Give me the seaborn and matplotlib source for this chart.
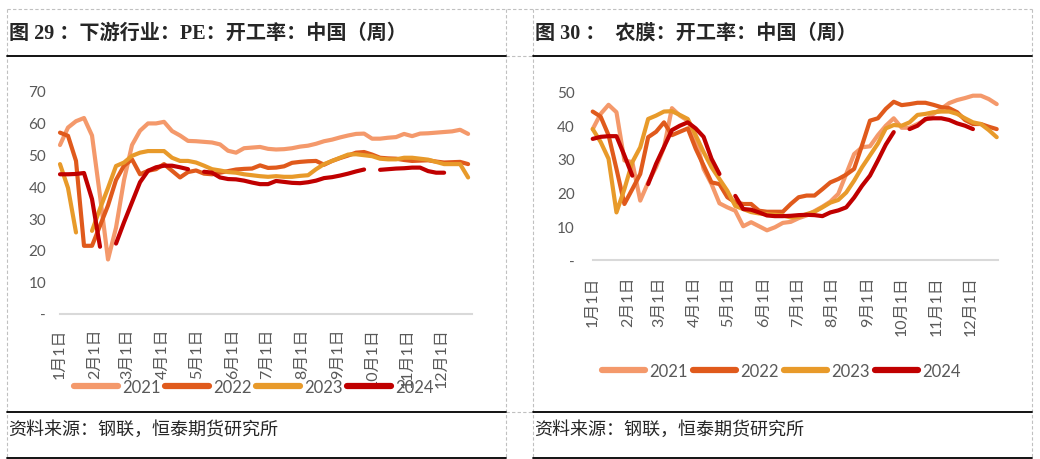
import numpy as np
import pandas as pd
import seaborn as sns
from matplotlib import pyplot as plt
from matplotlib.lines import Line2D

nan = np.nan

# weekly values, week 0 = first week of January
years = ["2021", "2022", "2023", "2024"]
colors = ["#F4996B", "#E05A1C", "#E89A2A", "#C00000"]
month_days = [0, 31, 59, 90, 120, 151, 181, 212, 243, 273, 304, 334]
month_labels = [f"{m}月1日" for m in range(1, 13)]

# 下游行业：PE：开工率
pe_2021 = [53, 58.5, 60.5, 61.5, 56, 37, 17, 27, 42, 53, 57.5, 59.8, 59.8, 60.3, 57.4, 56, 54.3, 54.2,
           54, 53.8, 53.2, 51.2, 50.6, 52, 52.2, 52.4, 51.8, 51.6, 51.7, 52, 52.5, 52.8, 53.4, 54.2, 54.7,
           55.4, 56, 56.5, 56.6, 55, 55, 55.3, 55.5, 56.5, 55.8, 56.6, 56.7, 56.9, 57.1, 57.3, 57.8, 56.5]
pe_2022 = [56.9, 55.9, 48, 21.3, 21.3, 27.6, 34, 42, 46.5, 48.5, 43.8, 44.9, 45.4, 47, 44.9, 42.8, 44.5,
           45, 44, 43.8, 44.3, 44.8, 45.3, 45.5, 45.6, 46.6, 45.8, 45.9, 46.3, 47.4, 47.7, 47.9, 48, 46.8,
           48, 48.9, 49.7, 50.6, 50.8, 50, 49, 48.8, 48.7, 48.3, 48, 48.1, 48.2, 47.8, 47.5, 47.6, 47.7, 47]
pe_2023 = [47, 39.5, 25.5, nan, 26, 33, 39.5, 46.4, 47.5, 49.6, 50.6, 51.1, 51.1, 51.1, 49, 48, 48, 47.5,
           46.5, 45.4, 45, 44.5, 44.3, 43.8, 43.5, 43.2, 43, 43.2, 43, 43, 43.3, 43.5, 45.4, 47, 48, 49,
           50, 50.1, 49.8, 49.5, 48.7, 48.5, 48.5, 49, 49, 48.7, 48.4, 47.7, 47, 47, 47, 42.8]
pe_2024 = [43.8, 43.8, 43.9, 44.2, 36, 21, nan, 22, 28.7, 35, 41.3, 44.9, 46, 46.5, 46.5, 46, 45.4, nan,
           44.6, 44.3, 42.8, 42.3, 42.2, 41.8, 41.2, 40.7, 40.7, 41.7, 41.4, 41.1, 41, 41.3, 41.8, 42.6,
           42.9, 43.4, 44, 44.7, 45.3, nan, 45.2, 45.4, 45.6, 45.7, 45.9, 45.9, 44.8, 44.3, 44.3, nan, nan, nan]

# 农膜：开工率
film_2021 = [38.8, 43.3, 46, 43.8, 29.5, 29, 17.6, 23, 27.5, 33.4, 45, 42.8, 41.3, 36, 27, 22.5, 16.8,
             15.6, 14.6, 10, 11.2, 10, 8.8, 9.7, 11, 11.3, 12.4, 13.2, 14.5, 15.8, 17.3, 19.6, 25.5, 31.4,
             33.4, 33.7, 37, 39.8, 42, 39.2, 39.2, 40.3, 41.5, 43.3, 44.8, 46.5, 47.4, 48, 48.7, 48.7, 47.7, 46.2]
film_2022 = [44, 42.5, 37, 27, 16.6, 21, 25.5, 36.4, 38, 40.8, 37, 38, 39, 33, 28, 23, 22.5, 18.6, 17.1,
             16.6, 16.6, 14.6, 14.3, 14.3, 14.3, 16.6, 18.6, 19.1, 19.1, 21, 23, 24, 25.3, 27, 34, 41.3,
             42, 44.8, 46.9, 45.9, 46.2, 46.6, 46.6, 46, 45.3, 45, 43.8, 41.5, 40.3, 40.3, 39.5, 38.8]
film_2023 = [38.8, 35, 30, 14.1, 21, 29, 33.4, 41.8, 42.8, 44, 44.1, 43, 41.8, 37, 32, 27.5, 24, 20.5,
             16, 15.1, 14.2, 13.8, 13.6, 13.4, 13.2, 12.6, 12.8, 13.6, 14.3, 15.6, 17, 17.8, 20, 23.5,
             27.5, 31, 34.5, 39, 40, 39.8, 40.8, 43, 43.3, 43.8, 44, 44, 43.3, 42, 40.8, 40.3, 38.5, 36.4]
film_2024 = [35.9, 36.5, 36.7, 36.7, 31, 25, nan, 22.5, 28.5, 33.5, 38.5, 39.8, 40.8, 39, 36.5, 30, 25.5,
             nan, 19, 15.1, 14.9, 14.1, 13.2, 13, 13, 13.1, 13.3, 13.4, 13.3, 13, 14.1, 14.7, 15.6, 18.5,
             22, 25, 29.5, 34.2, 37.9, nan, 38.8, 39.8, 41.8, 42, 42, 41.5, 40.5, 39.8, 38.8, nan, nan, nan]

W, H = 1040, 460
GRAY = "#595959"
SERIF_CJK = ["Liberation Serif", "Noto Sans CJK SC"]


def px(x, y):
    return x / W, 1 - y / H


def long_df(series):
    # one row per week, "seg" splits lines at missing weeks
    rows = []
    for yr, vals in zip(years, series):
        seg, gap = 0, True
        for w, v in enumerate(vals):
            if np.isnan(v):
                gap = True
                continue
            if gap:
                seg += 1
                gap = False
            rows.append({"day": w * 7, "val": v, "year": yr, "seg": f"{yr}-{seg}"})
    return pd.DataFrame(rows)


def draw_panel(fig, x0, x1, y0, y1, xmax, ymax, series, ypad, xpad, leg_xy):
    l, b = px(x0, y0)
    r, t = px(x1, y1)
    ax = fig.add_axes([l, b, r - l, t - b])
    ax.patch.set_alpha(0)
    df = long_df(series)
    sns.lineplot(data=df, x="day", y="val", hue="year", units="seg", estimator=None,
                 palette=dict(zip(years, colors)), linewidth=3, ax=ax)
    for ln in ax.lines:
        ln.set_solid_joinstyle("round")
        ln.set_solid_capstyle("round")
        ln.set_clip_on(False)

    ax.set_xlim(0, xmax)
    ax.set_ylim(0, ymax)
    ax.set_xticks(month_days)
    ax.set_xticklabels(month_labels)
    ax.set_yticks(range(0, ymax + 1, 10))
    ax.set_yticklabels(["-"] + [str(v) for v in range(10, ymax + 1, 10)])
    ax.set_xlabel("")
    ax.set_ylabel("")
    for sp in ["top", "right", "left"]:
        ax.spines[sp].set_visible(False)
    ax.spines["bottom"].set_color("#d9d9d9")
    ax.spines["bottom"].set_linewidth(1.5)
    ax.tick_params(axis="y", length=0, pad=ypad, labelcolor=GRAY, labelsize=11)
    ax.tick_params(axis="x", length=4, width=1.5, color="#d9d9d9", direction="out",
                   pad=xpad, labelcolor=GRAY, labelsize=11.5, labelrotation=90)

    old = ax.get_legend()
    handles = old.legend_handles
    labels = [tx.get_text() for tx in old.texts]
    for h in handles:
        h.set_linewidth(4.5)
        h.set_solid_capstyle("round")
    old.remove()
    ax.legend(handles, labels, loc="center", bbox_to_anchor=px(*leg_xy),
              bbox_transform=fig.transFigure, ncol=4, frameon=False, fontsize=12,
              handlelength=2.6, handletextpad=0.25, columnspacing=0.3, labelcolor=GRAY)
    return ax


sns.set_style("white")
plt.rcParams["font.family"] = ["Lato", "Noto Sans CJK SC", "DejaVu Sans"]

fig = plt.figure(figsize=(10.4, 4.6), dpi=100)

draw_panel(fig, 60, 472, 314.5, 92, 360.4, 70, [pe_2021, pe_2022, pe_2023, pe_2024],
           ypad=10, xpad=6, leg_xy=(254, 388))
draw_panel(fig, 592.7, 998.3, 261, 92.3, 358.4, 50, [film_2021, film_2022, film_2023, film_2024],
           ypad=13, xpad=7, leg_xy=(781, 372))

# table frame around the two panels
dash = dict(color="#c0c0c0", linewidth=0.8, linestyle=(0, (3, 2)))
solid = dict(color="black", linewidth=1.3)
fig.add_artist(Line2D([px(7, 0)[0], px(1032, 0)[0]], [px(0, 10)[1]] * 2, **dash))
for xv in [7, 505.5, 533, 1032]:
    fig.add_artist(Line2D([px(xv, 0)[0]] * 2, [px(0, 10)[1], 0], **dash))
for yv in [57, 412.7]:
    fig.add_artist(Line2D([px(505.5, 0)[0], px(533, 0)[0]], [px(0, yv)[1]] * 2, **dash))
for yv in [57, 412.7, 459]:
    for xa, xb in [(7, 505.5), (533, 1032)]:
        fig.add_artist(Line2D([px(xa, 0)[0], px(xb, 0)[0]], [px(0, yv)[1]] * 2, **solid))

# titles and sources
fig.text(*px(9, 34), "图 29 ：下游行业：PE：开工率：中国（周）", family=SERIF_CJK,
         fontsize=14.5, fontweight="bold", va="center", ha="left")
fig.text(*px(535, 34), "图 30 ：  农膜：开工率：中国（周）", family=SERIF_CJK,
         fontsize=14.5, fontweight="bold", va="center", ha="left")
fig.text(*px(8, 430), "资料来源：钢联，恒泰期货研究所", family=SERIF_CJK,
         fontsize=13, va="center", ha="left")
fig.text(*px(534, 430), "资料来源：钢联，恒泰期货研究所", family=SERIF_CJK,
         fontsize=13, va="center", ha="left")

plt.savefig("out.png", dpi=100)
